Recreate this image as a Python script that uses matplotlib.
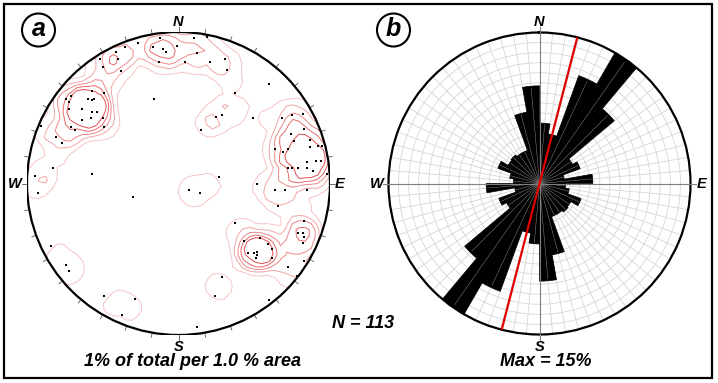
import numpy as np
import matplotlib
matplotlib.use("Agg")
import matplotlib.pyplot as plt
from matplotlib.patches import Circle, Rectangle

# ---------------- data ----------------
# Poles (stereonet a), east/north position in % of net radius
pole_x = [-12, -27, -35, -41, -17, -10, -8, -1, 10, 19, 12, 4, -13, 21, 31, 32, -52, -50, -40, -38,
          -57, -49, -74, -72, -60, -56, -71, -72, -64, -57, -54, -64, -58, -50, -49, -71, -68, -91, -81, -77,
          -16, 60, 37, 25, 29, 49, 15, 68, 75, 82, 83, 74, 76, 64, 69, 72, 87, 87, 92, 95,
          72, 75, 79, 85, 85, 89, 91, 94, 98, -83, -95, -57, 27, 52,
          -93, -30, 7, 14, 64, 70, 85, 66, 37, 83, 79, 82, 83, 82, 54, 59, 43, 62, 46, 50,
          52, 51, 62, -84, -74, -72, 72, 78, 83, 29, 24, 60, -49, -29, -37, 12, -57, 52]
pole_y = [96, 93, 90, 87, 90, 89, 87, 91, 96, 97, 86, 80, 80, 80, 82, 75, 82, 77, 82, 74,
          61, 60, 56, 54, 56, 56, 58, 49, 49, 47, 47, 42, 43, 43, 37, 37, 35, 38, 31, 27,
          56, 66, 60, 44, 45, 43, 35, 43, 45, 46, 36, 33, 28, 23, 21, 23, 29, 24, 25, 25,
          10, 10, 10, 14, 10, 8, 15, 15, 6, 10, 5, 6, 4, 0,
          -6, -9, -4, -6, -4, -4, -4, -15, -26, -25, -33, -33, -35, -39, -36, -40, -38, -43, -46, -46,
          -45, -49, -49, -41, -54, -58, -55, -61, -51, -62, -74, -77, -74, -76, -87, -95, 55, -47]
n_total = 113
contour_levels = [1, 2, 3, 4, 5]   # % of total per 1 % area

# Rose diagram (b): % per 10-degree bin, bins 0-180 (axial data, mirrored)
bin_starts = list(range(0, 360, 10))
rose_half = [6.0, 5.0, 11.4, 15.0, 9.7, 3.8, 4.3, 2.5, 5.3,
             2.6, 3.0, 4.4, 3.6, 3.7, 3.5, 3.5, 7.2, 9.7]
rose_vals = rose_half + rose_half
mean_dir = 14.5
rose_max = 15

W, H = 718, 383
FONT = ['Liberation Sans Narrow', 'Liberation Sans', 'DejaVu Sans']

fig = plt.figure(figsize=(W / 100, H / 100), dpi=100)
fig.patch.set_facecolor('white')


def box(cx, cy, r):
    return [(cx - r) / W, (H - cy - r) / H, 2 * r / W, 2 * r / H]


def lab(ax, x, y, s, size=10.5, **kw):
    ax.text(x, y, s, ha='center', va='center', fontsize=size, fontweight='bold',
            fontstyle='italic', family=FONT, clip_on=False, **kw)


# ---------------- (a) stereonet ----------------
ax1 = fig.add_axes(box(178.5, 183.5, 151.5))
ax1.set_xlim(-100, 100)
ax1.set_ylim(-100, 100)
ax1.set_aspect('equal')
ax1.axis('off')

px = np.array(pole_x, float)
py = np.array(pole_y, float)
g = np.linspace(-104, 104, 52)
GX, GY = np.meshgrid(g, g)
cnt = np.zeros_like(GX)
for x, y in zip(px, py):
    d = np.hypot(GX - x, GY - y)
    cnt += 1.0 / (1.0 + np.exp((d - 11.5) / 1.6))
pct = cnt / n_total * 100
cols = ['#f6c4c4', '#f1a6a6', '#ec8888', '#e56a6a', '#de5050']
net = Circle((0, 0), 100, transform=ax1.transData, fill=False)
cs = ax1.contour(GX, GY, pct, levels=contour_levels, colors=cols, linewidths=0.7)
cs.set_clip_path(net)

ax1.plot(px, py, 's', color='black', markersize=2.1, markeredgewidth=0, zorder=4)
ax1.add_patch(Circle((0, 0), 100, fill=False, lw=1.6, color='black', zorder=5))
for az in range(0, 360, 10):
    s, c = np.sin(np.deg2rad(az)), np.cos(np.deg2rad(az))
    ax1.plot([100 * s, 103 * s], [100 * c, 103 * c], color='#555555', lw=0.6, clip_on=False)
lab(ax1, 0, 106.6, 'N')
lab(ax1, 0, -107.9, 'S')
lab(ax1, -107.9, 0, 'W')
lab(ax1, 106.6, 0, 'E')

# ---------------- (b) rose ----------------
ax2 = fig.add_axes(box(539.5, 183.5, 151), projection='polar')
ax2.set_theta_zero_location('N')
ax2.set_theta_direction(-1)
ax2.set_ylim(0, rose_max)
ax2.grid(False)
ax2.set_xticks([])
ax2.set_yticks([])
ax2.spines['polar'].set_linewidth(1.6)
ax2.spines['polar'].set_color('black')
tt = np.linspace(0, 2 * np.pi, 400)
grid_c = '#d6d6d6'
for r in range(1, rose_max):
    ax2.plot(tt, np.full_like(tt, r), color=grid_c, lw=0.6, zorder=1)
for a in range(0, 360, 5):
    ax2.plot([np.deg2rad(a)] * 2, [0, rose_max], color=grid_c, lw=0.6, zorder=1)
ax2.bar(np.deg2rad(bin_starts), rose_vals, width=np.deg2rad(10), align='edge',
        color='black', edgecolor='black', linewidth=0.5, zorder=2)
# faint radial grid line showing through the middle of each bar
for b, v in zip(bin_starts, rose_vals):
    ax2.plot([np.deg2rad(b + 5)] * 2, [0, v * 0.98], color='#8a8a8a', lw=0.35, zorder=3)
for a in range(0, 360, 90):
    ax2.plot([np.deg2rad(a)] * 2, [0, rose_max * 1.035], color='#808080', lw=0.8,
             zorder=3, clip_on=False)
for a in (mean_dir, mean_dir + 180):
    ax2.plot([np.deg2rad(a)] * 2, [0, rose_max], color='#e00000', lw=1.6, zorder=4)
lab(ax2, 0, 16.05, 'N')
lab(ax2, np.pi, 16.25, 'S')
lab(ax2, 1.5 * np.pi, 16.15, 'W')
lab(ax2, 0.5 * np.pi, 16.15, 'E')

# ---------------- overlay: frame & captions ----------------
ax0 = fig.add_axes([0, 0, 1, 1], zorder=-1)
ax0.set_xlim(0, W)
ax0.set_ylim(H, 0)
ax0.axis('off')
ax0.add_patch(Rectangle((4, 4), 708, 374, fill=False, lw=1.6, color='black'))

ax3 = fig.add_axes([0, 0, 1, 1], zorder=10)
ax3.set_xlim(0, W)
ax3.set_ylim(H, 0)
ax3.axis('off')
ax3.patch.set_alpha(0)
for cx, t in ((38.5, 'a'), (393.5, 'b')):
    ax3.add_patch(Circle((cx, 30), 16.5, fill=False, lw=1.5, color='black'))
    lab(ax3, cx, 29, t, size=18)
lab(ax3, 192, 362, '1% of total per 1.0 % area', size=13)
lab(ax3, 363, 323, 'N = 113', size=13)
lab(ax3, 546, 362, 'Max = 15%', size=13)

fig.savefig('out.png', dpi=100, facecolor='white')
